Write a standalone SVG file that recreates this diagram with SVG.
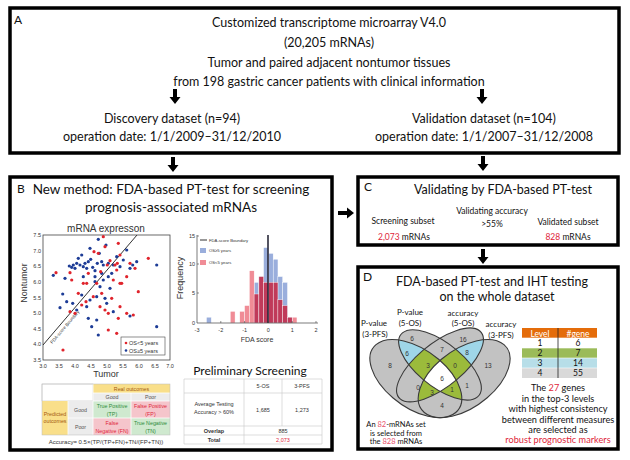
<svg xmlns="http://www.w3.org/2000/svg" xmlns:xlink="http://www.w3.org/1999/xlink" width="630" height="460" viewBox="0 0 630 460">
<style>
.box{fill:#fff;stroke:#000;stroke-width:3.5}
.t{font-family:Lato,"Open Sans","Liberation Sans",sans-serif;fill:#111}
.p{font-family:"Liberation Sans",Arial,sans-serif;fill:#333}
.m{text-anchor:middle}
.red{fill:#e0263a}
.pk{fill:#e8506a}
.rd{fill:#e0242c}
.bd{fill:#1d3c96}
.arr{fill:#000}
.ell{fill:none;stroke:#3a3a3a;stroke-width:1.1}
.grid{stroke:#c8c8c8;stroke-width:0.6;fill:none}
</style>
<defs>
<path id="darr" d="M-2,0 H2 V8 H5.5 L0,15 L-5.5,8 H-2 Z"/>
<path id="rarr" d="M0,-2 V2 H9 V5.5 L16,0 L9,-5.5 V-2 Z"/>
<ellipse id="eA" cx="0.35" cy="0.47" rx="0.35" ry="0.20" transform="rotate(135 0.35 0.47)" vector-effect="non-scaling-stroke"/>
<ellipse id="eB" cx="0.5" cy="0.57" rx="0.33" ry="0.15" transform="rotate(135 0.5 0.57)" vector-effect="non-scaling-stroke"/>
<ellipse id="eC" cx="0.5" cy="0.57" rx="0.35" ry="0.15" transform="rotate(45 0.5 0.57)" vector-effect="non-scaling-stroke"/>
<ellipse id="eD" cx="0.65" cy="0.47" rx="0.35" ry="0.20" transform="rotate(45 0.65 0.47)" vector-effect="non-scaling-stroke"/>
<clipPath id="cA"><use xlink:href="#eA"/></clipPath>
<clipPath id="cB"><use xlink:href="#eB"/></clipPath>
<clipPath id="cC"><use xlink:href="#eC"/></clipPath>
<clipPath id="cD"><use xlink:href="#eD"/></clipPath>
</defs>
<rect width="630" height="460" fill="#fff"/>

<g id="panelA">
<rect class="box" x="10" y="8" width="609" height="145"/>
<text class="t" x="14" y="24" font-size="12">A</text>
<g class="t m" font-size="12.5">
<text x="329" y="27">Customized transcriptome microarray V4.0</text>
<text x="329" y="47">(20,205 mRNAs)</text>
<text x="329" y="67">Tumor and paired adjacent nontumor tissues</text>
<text x="329" y="86">from 198 gastric cancer patients with clinical information</text>
<text x="172" y="123">Discovery dataset (n=94)</text>
<text x="172" y="141">operation date: 1/1/2009–31/12/2010</text>
<text x="484" y="123">Validation dataset (n=104)</text>
<text x="484" y="141">operation date: 1/1/2007–31/12/2008</text>
</g>
</g>

<g id="connectors" class="arr">
<use xlink:href="#darr" transform="translate(175,89)"/>
<use xlink:href="#darr" transform="translate(482,89)"/>
<use xlink:href="#darr" transform="translate(173,157)"/>
<use xlink:href="#darr" transform="translate(483,156)"/>
<use xlink:href="#rarr" transform="translate(338,213)"/>
<use xlink:href="#darr" transform="translate(483,249)"/>
<use xlink:href="#rarr" transform="translate(484,236)"/>
</g>

<g id="panelB">
<rect class="box" x="10" y="177" width="322" height="273"/>
<text class="t" x="17" y="193" font-size="12">B</text>
<text class="t m" x="171" y="194" font-size="13.5">New method: FDA-based PT-test for screening</text>
<text class="t m" x="171" y="212" font-size="13.5">prognosis-associated mRNAs</text>

<g id="scatter">
<text class="p m" x="106" y="232" font-size="10" fill="#111">mRNA expresson</text>
<rect x="43" y="235" width="127" height="125" fill="none" stroke="#444" stroke-width="0.8"/>
<g class="p" font-size="5.5" text-anchor="end">
<text x="41" y="237">7.5</text><text x="41" y="252.5">7.0</text><text x="41" y="268">6.5</text><text x="41" y="284">6.0</text><text x="41" y="300">5.5</text><text x="41" y="315">5.0</text><text x="41" y="331">4.5</text><text x="41" y="346">4.0</text><text x="41" y="362">3.5</text>
</g>
<g class="p m" font-size="5.5">
<text x="43" y="368">3.0</text><text x="59" y="368">3.5</text><text x="75" y="368">4.0</text><text x="91" y="368">4.5</text><text x="107" y="368">5.0</text><text x="123" y="368">5.5</text><text x="139" y="368">6.0</text><text x="155" y="368">6.5</text><text x="170" y="368">7.0</text>
</g>
<text class="p m" x="106" y="377" font-size="9" fill="#111">Tumor</text>
<text class="p m" transform="translate(27,283) rotate(-90)" font-size="9" fill="#111">Nontumor</text>
<line x1="43" y1="345" x2="137" y2="235" stroke="#333" stroke-width="1"/>
<text class="p m" transform="translate(66,328) rotate(-49.5)" font-size="4.5">FDA-score Boundary</text>
<g class="bd">
<circle cx="53.3" cy="275.3" r="1.6"/><circle cx="65" cy="278.3" r="1.6"/><circle cx="69.3" cy="266" r="1.6"/><circle cx="71.7" cy="267.3" r="1.6"/><circle cx="73.3" cy="265" r="1.6"/><circle cx="75" cy="268.3" r="1.6"/><circle cx="76.7" cy="263.3" r="1.6"/><circle cx="81.7" cy="255" r="1.6"/><circle cx="83.3" cy="266.7" r="1.6"/><circle cx="85" cy="263.3" r="1.6"/><circle cx="86.7" cy="268.3" r="1.6"/><circle cx="88.3" cy="261.7" r="1.6"/><circle cx="90" cy="248.3" r="1.6"/><circle cx="90.7" cy="259.3" r="1.6"/><circle cx="92.7" cy="267.3" r="1.6"/><circle cx="95" cy="270.7" r="1.6"/><circle cx="97.3" cy="263.3" r="1.6"/><circle cx="99.3" cy="253.3" r="1.6"/><circle cx="101.7" cy="261.7" r="1.6"/><circle cx="103.3" cy="265" r="1.6"/><circle cx="106" cy="245" r="1.6"/><circle cx="108.3" cy="263.3" r="1.6"/><circle cx="111.7" cy="273.3" r="1.6"/><circle cx="113.3" cy="265" r="1.6"/><circle cx="116.7" cy="256.7" r="1.6"/><circle cx="120" cy="266.7" r="1.6"/><circle cx="123.3" cy="260" r="1.6"/><circle cx="126.7" cy="250" r="1.6"/><circle cx="130" cy="268.3" r="1.6"/><circle cx="132.7" cy="265" r="1.6"/><circle cx="136.7" cy="261.7" r="1.6"/><circle cx="62.7" cy="294" r="1.6"/><circle cx="72.7" cy="303.3" r="1.6"/><circle cx="76.7" cy="310" r="1.6"/><circle cx="81.7" cy="295" r="1.6"/><circle cx="86.7" cy="306.7" r="1.6"/><circle cx="90" cy="300" r="1.6"/><circle cx="95" cy="281.7" r="1.6"/><circle cx="100" cy="286.7" r="1.6"/><circle cx="103.3" cy="280" r="1.6"/><circle cx="108.3" cy="276.7" r="1.6"/><circle cx="110" cy="288.3" r="1.6"/><circle cx="96.7" cy="296.7" r="1.6"/><circle cx="105" cy="298.3" r="1.6"/><circle cx="113.3" cy="311.7" r="1.6"/><circle cx="88.3" cy="318.3" r="1.6"/><circle cx="91.7" cy="326.7" r="1.6"/><circle cx="96.7" cy="320" r="1.6"/><circle cx="106.7" cy="303.3" r="1.6"/><circle cx="130" cy="316" r="1.6"/><circle cx="156.7" cy="265" r="1.6"/><circle cx="156.7" cy="326.7" r="1.6"/><circle cx="98.3" cy="335" r="1.6"/><circle cx="60" cy="307.7" r="1.6"/><circle cx="66.7" cy="301.7" r="1.6"/><circle cx="98.3" cy="239.3" r="1.6"/><circle cx="80" cy="265" r="1.6"/><circle cx="78.3" cy="258.3" r="1.6"/><circle cx="95" cy="276.7" r="1.6"/><circle cx="101.7" cy="273.3" r="1.6"/><circle cx="83.3" cy="276.7" r="1.6"/>
</g>
<g class="rd">
<circle cx="56" cy="272.7" r="1.6"/><circle cx="70" cy="272.7" r="1.6"/><circle cx="71.7" cy="280" r="1.6"/><circle cx="78.3" cy="293.3" r="1.6"/><circle cx="83.3" cy="283.3" r="1.6"/><circle cx="88.3" cy="273.3" r="1.6"/><circle cx="94" cy="251.7" r="1.6"/><circle cx="98.3" cy="253.3" r="1.6"/><circle cx="100.7" cy="271.7" r="1.6"/><circle cx="103.3" cy="236.7" r="1.6"/><circle cx="105" cy="246.7" r="1.6"/><circle cx="107.3" cy="265" r="1.6"/><circle cx="110" cy="260.7" r="1.6"/><circle cx="113.3" cy="280" r="1.6"/><circle cx="115" cy="265" r="1.6"/><circle cx="117.3" cy="263.3" r="1.6"/><circle cx="118.3" cy="243.3" r="1.6"/><circle cx="121.7" cy="283.3" r="1.6"/><circle cx="126.7" cy="276.7" r="1.6"/><circle cx="130" cy="263.3" r="1.6"/><circle cx="135" cy="268.3" r="1.6"/><circle cx="148.3" cy="258.3" r="1.6"/><circle cx="70" cy="311.7" r="1.6"/><circle cx="75" cy="313.3" r="1.6"/><circle cx="81.7" cy="305" r="1.6"/><circle cx="86" cy="301.7" r="1.6"/><circle cx="93.3" cy="296.7" r="1.6"/><circle cx="100" cy="306.7" r="1.6"/><circle cx="101.7" cy="293.3" r="1.6"/><circle cx="105" cy="310" r="1.6"/><circle cx="108.3" cy="313.3" r="1.6"/><circle cx="111.7" cy="298.3" r="1.6"/><circle cx="120" cy="306.7" r="1.6"/><circle cx="118.3" cy="318.3" r="1.6"/><circle cx="108.3" cy="330" r="1.6"/><circle cx="133.3" cy="315" r="1.6"/><circle cx="138.3" cy="291.7" r="1.6"/><circle cx="126.7" cy="313.3" r="1.6"/><circle cx="116.7" cy="333.3" r="1.6"/><circle cx="86.7" cy="283.3" r="1.6"/><circle cx="96.7" cy="283.3" r="1.6"/><circle cx="120" cy="283.3" r="1.6"/><circle cx="120" cy="255" r="1.6"/><circle cx="116.7" cy="270" r="1.6"/><circle cx="63" cy="350" r="1.6"/>
</g>
<rect x="121" y="337" width="44" height="18" fill="#fff" stroke="#444" stroke-width="0.6"/>
<circle class="rd" cx="126" cy="343" r="1.3"/>
<circle class="bd" cx="126" cy="350.5" r="1.3"/>
<text class="p" x="129" y="345" font-size="5.5" fill="#111">OS&lt;5 years</text>
<text class="p" x="129" y="352.5" font-size="5.5" fill="#111">OS≥5 years</text>
</g>

<g id="histogram">
<g fill="#9aaedc" stroke="#fff" stroke-width="0.4">
<rect x="206.5" y="317.2" width="4.76" height="5.8"/>
<rect x="254.1" y="282.4" width="4.76" height="40.6"/>
<rect x="258.9" y="276.6" width="4.76" height="46.4"/>
<rect x="263.6" y="247.6" width="4.76" height="75.4"/>
<rect x="268.4" y="253.4" width="4.76" height="69.6"/>
<rect x="273.2" y="259.2" width="4.76" height="63.8"/>
<rect x="277.9" y="276.6" width="4.76" height="46.4"/>
<rect x="282.7" y="282.4" width="4.76" height="40.6"/>
<rect x="287.4" y="317.2" width="4.76" height="5.8"/>
</g>
<g fill="#f08c96" stroke="#fff" stroke-width="0.4">
<rect x="230.3" y="311.4" width="4.76" height="11.6"/>
<rect x="239.8" y="311.4" width="4.76" height="11.6"/>
<rect x="244.6" y="305.6" width="4.76" height="17.4"/>
<rect x="249.4" y="270.8" width="4.76" height="52.2"/>
<rect x="292.2" y="317.2" width="4.76" height="5.8"/>
</g>
<g fill="#c03a5a" stroke="#fff" stroke-width="0.4">
<rect x="254.1" y="294" width="4.76" height="29"/>
<rect x="258.9" y="276.6" width="4.76" height="46.4"/>
<rect x="263.6" y="282.4" width="4.76" height="40.6"/>
<rect x="268.4" y="282.4" width="4.76" height="40.6"/>
<rect x="273.2" y="282.4" width="4.76" height="40.6"/>
<rect x="277.9" y="299.8" width="4.76" height="23.2"/>
<rect x="282.7" y="305.6" width="4.76" height="17.4"/>
<rect x="287.4" y="317.2" width="4.76" height="5.8"/>
</g>
<line x1="268" y1="235" x2="268" y2="323" stroke="#2a2a3a" stroke-width="1.6"/>
<path d="M197,235 V323 H318" fill="none" stroke="#444" stroke-width="0.7"/>
<g stroke="#444" stroke-width="0.6">
<line x1="197" y1="236" x2="199" y2="236"/><line x1="197" y1="264" x2="199" y2="264"/><line x1="197" y1="293" x2="199" y2="293"/>
<line x1="220.8" y1="323" x2="220.8" y2="321"/><line x1="244.6" y1="323" x2="244.6" y2="321"/><line x1="268.4" y1="323" x2="268.4" y2="321"/><line x1="292.2" y1="323" x2="292.2" y2="321"/><line x1="316" y1="323" x2="316" y2="321"/>
</g>
<g class="p" font-size="5.5" text-anchor="end">
<text x="195" y="238">15</text><text x="195" y="266">10</text><text x="195" y="295">5</text><text x="195" y="325">0</text>
</g>
<g class="p m" font-size="5.5">
<text x="197" y="332">-3</text><text x="220.8" y="332">-2</text><text x="244.6" y="332">-1</text><text x="268.4" y="332">0</text><text x="292.2" y="332">1</text><text x="316" y="332">2</text>
</g>
<text class="p m" x="257" y="342" font-size="7" fill="#111">FDA score</text>
<text class="p m" transform="translate(183,278) rotate(-90)" font-size="9" fill="#111">Frequency</text>
<line x1="200" y1="240" x2="207" y2="240" stroke="#333" stroke-width="1"/>
<rect x="200" y="248" width="6" height="5" fill="#9aaedc"/>
<rect x="200" y="260" width="6" height="5" fill="#f08c96"/>
<g class="p" font-size="4.2">
<text x="209" y="241.5">FDA-score Boundary</text>
<text x="209" y="252">OS≥5 years</text>
<text x="209" y="264">OS&lt;5 years</text>
</g>
</g>

<g id="confusion">
<rect x="42" y="384" width="51" height="17" fill="#fff" stroke="#bbb" stroke-width="0.5"/>
<rect x="93" y="384" width="77" height="9" fill="#f9df8a"/>
<rect x="93" y="393" width="38" height="8" fill="#ececec"/>
<rect x="131" y="393" width="39" height="8" fill="#ececec"/>
<rect x="42" y="401" width="26" height="34" fill="#f9df8a"/>
<rect x="68" y="401" width="25" height="17" fill="#ececec"/>
<rect x="68" y="418" width="25" height="17" fill="#ececec"/>
<rect x="93" y="401" width="38" height="17" fill="#cfe9cf"/>
<rect x="131" y="401" width="39" height="17" fill="#f5c5cb"/>
<rect x="93" y="418" width="38" height="17" fill="#f5c5cb"/>
<rect x="131" y="418" width="39" height="17" fill="#cfe9cf"/>
<g stroke="#fff" stroke-width="0.8" fill="none">
<path d="M93,393 H170 M93,401 H170 M68,418 H170 M68,401 V435 M93,384 V435 M131,393 V435"/>
</g>
<rect x="42" y="384" width="128" height="51" fill="none" stroke="#bbb" stroke-width="0.5"/>
<g class="p m" font-size="5.3">
<text x="131.5" y="391" fill="#a35a10">Real outcomes</text>
<text x="112" y="399" fill="#555">Good</text>
<text x="150.5" y="399" fill="#555">Poor</text>
<text x="55" y="416" fill="#a35a10">Predicted</text>
<text x="55" y="423" fill="#a35a10">outcomes</text>
<text x="80.5" y="411.5" fill="#555">Good</text>
<text x="80.5" y="428.5" fill="#555">Poor</text>
<text x="112" y="408" fill="#2e8b3a">True Positive</text>
<text x="112" y="415.5" fill="#2e8b3a">(TP)</text>
<text x="150.5" y="408" fill="#e0263a">False Positive</text>
<text x="150.5" y="415.5" fill="#e0263a">(FP)</text>
<text x="112" y="425" fill="#e0263a">False</text>
<text x="112" y="432.5" fill="#e0263a">Negative (FN)</text>
<text x="150.5" y="425" fill="#2e8b3a">True Negative</text>
<text x="150.5" y="432.5" fill="#2e8b3a">(TN)</text>
</g>
<text class="p m" x="106" y="443.5" font-size="6">Accuracy= 0.5×(TP/(TP+FN)+TN/(FP+TN))</text>
</g>

<g id="prelim">
<text class="t m" x="250" y="375" font-size="12">Preliminary Screening</text>
<path class="grid" d="M184,379 H322 M184,393 H322 M184,426 H322 M184,435 H322 M184,444 H322 M184,379 V444 M322,379 V444 M244,379 V444 M282,379 V426"/>
<g class="p m" font-size="5.5">
<text x="263" y="388">5-OS</text>
<text x="302" y="388">3-PFS</text>
<text x="214" y="406">Average Testing</text>
<text x="214" y="414">Accuracy &gt; 60%</text>
<text x="263" y="411.5">1,685</text>
<text x="302" y="411.5">1,273</text>
<text x="214" y="432.5" font-weight="bold">Overlap</text>
<text x="283" y="432.5">885</text>
<text x="214" y="441.5" font-weight="bold">Total</text>
<text x="283" y="441.5" class="red">2,073</text>
</g>
</g>
</g>

<g id="panelC">
<rect class="box" x="358" y="177" width="260" height="68"/>
<text class="t" x="364" y="191" font-size="12">C</text>
<text class="t m" x="503" y="194" font-size="12.5">Validating by FDA-based PT-test</text>
<g class="t m" font-size="8.5">
<text x="403" y="224">Screening subset</text>
<text x="404" y="240"><tspan class="red">2,073</tspan> mRNAs</text>
<text x="492" y="214">Validating accuracy</text>
<text x="492" y="227">&gt;55%</text>
<text x="568" y="225">Validated subset</text>
<text x="568" y="240"><tspan class="red">828</tspan> mRNAs</text>
</g>
</g>

<g id="panelD">
<rect class="box" x="358" y="267" width="260" height="182"/>
<text class="t" x="363" y="281" font-size="12">D</text>
<text class="t m" x="492" y="286" font-size="12.5">FDA-based PT-test and IHT testing</text>
<text class="t m" x="497" y="301" font-size="12.5">on the whole dataset</text>

<g id="venn" transform="matrix(161 0 0 -137 359.5 443)">
<g fill="#c2c2c2"><use xlink:href="#eA"/><use xlink:href="#eB"/><use xlink:href="#eC"/><use xlink:href="#eD"/></g>
<g clip-path="url(#cA)"><use xlink:href="#eB" fill="#9fd6e8"/></g>
<g clip-path="url(#cC)"><use xlink:href="#eD" fill="#9fd6e8"/></g>
<g fill="#9bbb3b">
<g clip-path="url(#cA)"><g clip-path="url(#cB)"><use xlink:href="#eC"/><use xlink:href="#eD"/></g></g>
<g clip-path="url(#cC)"><g clip-path="url(#cD)"><use xlink:href="#eA"/><use xlink:href="#eB"/></g></g>
</g>
<g clip-path="url(#cA)"><g clip-path="url(#cB)"><g clip-path="url(#cC)"><use xlink:href="#eD" fill="#fff"/></g></g></g>
<g class="ell"><use xlink:href="#eA"/><use xlink:href="#eB"/><use xlink:href="#eC"/><use xlink:href="#eD"/></g>
</g>
<g class="p m" font-size="6.5">
<text x="390" y="368">8</text><text x="412" y="341">6</text><text x="463" y="342">16</text><text x="488" y="368">13</text>
<text x="407" y="356">6</text><text x="467" y="355">8</text><text x="442" y="352">7</text>
<text x="428" y="368">3</text><text x="455" y="368">0</text><text x="418" y="390">0</text><text x="467" y="388">1</text>
<text x="442" y="381">6</text><text x="432" y="395">3</text><text x="452" y="392">1</text><text x="442" y="408">4</text>
</g>
<g class="t m" font-size="8">
<text x="374" y="326">P-value</text><text x="375" y="337">(3-PFS)</text>
<text x="410" y="315">P-value</text><text x="410" y="326">(5-OS)</text>
<text x="463" y="316">accuracy</text><text x="463" y="326">(5-OS)</text>
<text x="501" y="327">accuracy</text><text x="501" y="338">(3-PFS)</text>
</g>
<g class="t m" font-size="7.5">
<text x="396" y="427">An <tspan class="pk">82</tspan>-mRNAs set</text>
<text x="396" y="435.5">is selected from</text>
<text x="396" y="444">the <tspan class="pk">828</tspan> mRNAs</text>
</g>

<g id="levels">
<rect x="522" y="328" width="75" height="10" fill="#e46c0a"/>
<rect x="522" y="338" width="75" height="10" fill="#fff"/>
<rect x="522" y="348" width="75" height="10" fill="#9bbb59"/>
<rect x="522" y="358" width="75" height="10" fill="#b7dee8"/>
<rect x="522" y="368" width="75" height="10" fill="#d9d9d9"/>
<path d="M522,338 H597 M522,348 H597 M522,358 H597 M522,368 H597" stroke="#fff" stroke-width="0.6"/>
<line x1="558" y1="328" x2="558" y2="378" stroke="#222" stroke-width="0.8"/>
<g class="t m" font-size="8.5">
<text x="540" y="336.5" fill="#fff">Level</text><text x="578" y="336.5" fill="#fff">#gene</text>
<text x="540" y="346">1</text><text x="578" y="346">6</text>
<text x="540" y="356">2</text><text x="578" y="356">7</text>
<text x="540" y="366">3</text><text x="578" y="366">14</text>
<text x="540" y="376">4</text><text x="578" y="376">55</text>
</g>
</g>
<g class="t m" font-size="9.2">
<text x="558" y="391">The <tspan class="red">27</tspan> genes</text>
<text x="558" y="402">in the top-3 levels</text>
<text x="558" y="412">with highest consistency</text>
<text x="558" y="423">between different measures</text>
<text x="558" y="433">are selected as</text>
<text x="558" y="443" class="red">robust prognostic markers</text>
</g>
</g>
</svg>
